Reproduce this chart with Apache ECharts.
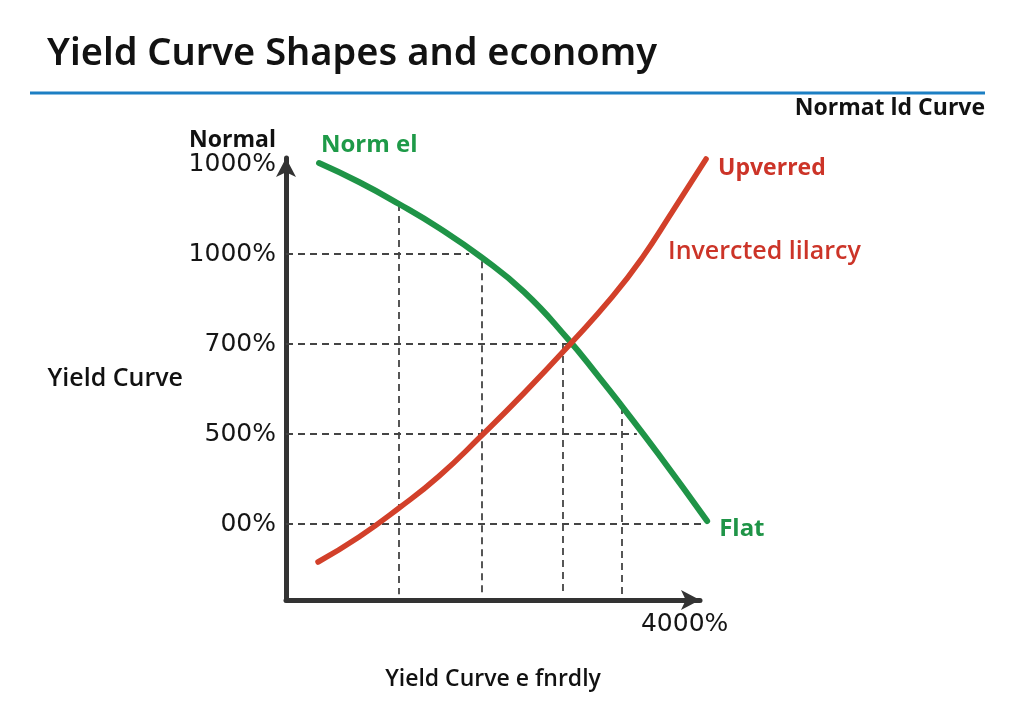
<!DOCTYPE html>
<html>
<head>
<meta charset="utf-8">
<script src="https://cdn.jsdelivr.net/npm/echarts@6/dist/echarts.min.js"></script>
<style>
html,body{margin:0;padding:0;background:#ffffff;}
#chart{width:1024px;height:721px;}
</style>
</head>
<body>
<div id="chart"></div>
<script>
// Curves (x, y in chart units)
const normalX = [0.988, 1.481, 1.975, 2.469, 2.988, 3.519, 4.049, 4.444, 4.716, 5.185, 5.778];
const normalY = [5.011, 4.800, 4.556, 4.289, 3.967, 3.578, 3.067, 2.633, 2.322, 1.767, 1.033];
const invertedX = [0.975, 1.481, 1.975, 2.469, 2.988, 3.519, 4.099, 4.605, 4.975, 5.346, 5.765];
const invertedY = [0.578, 0.856, 1.178, 1.533, 1.978, 2.456, 3.011, 3.522, 3.956, 4.467, 5.056];

// Dashed drop lines to the normal curve
const dropX = [1.975, 2.99, 3.99, 4.72];
const dropXTop = [4.556, 3.92, 3.00, 2.30];
const dropY = [1, 2, 3, 4];
const dropYEnd = [5.74, 4.91, 4.07, 2.84];

// Tick labels
const yTickValues = [1, 2, 3, 4, 5];
const yTickLabels = ['00%', '500%', '700%', '1000%', '1000%'];
const xTickValues = [5.5];
const xTickLabels = ['4000%'];

const X_MIN = 0.58, X_MAX = 5.69, Y_MIN = 0.156, Y_MAX = 5.067;
const X_MAX_DATA = 5.94; // wider data grid so curve ends are not clipped

const dropLines = [];
dropX.forEach((x, i) => dropLines.push({coords: [[x, dropXTop[i]], [x, 0.22]]}));
dropY.forEach((y, i) => dropLines.push({coords: [[X_MIN, y], [dropYEnd[i], y]]}));

const GREEN = '#1f9447';
const RED = '#d2402a';

const chart = echarts.init(document.getElementById('chart'), null, {renderer: 'canvas'});
chart.setOption({
  backgroundColor: '#ffffff',
  animation: false,
  grid: [
    {left: 286, width: 414, top: 158, bottom: 121, containLabel: false},
    {left: 286, width: 414 * (X_MAX_DATA - X_MIN) / (X_MAX - X_MIN), top: 158, bottom: 121, containLabel: false}
  ],
  xAxis: [{
    type: 'value', gridIndex: 0, min: X_MIN, max: X_MAX,
    splitLine: {show: false},
    axisTick: {show: false},
    axisLine: {show: true, onZero: false, lineStyle: {color: '#333333', width: 5}, symbol: ['none', 'arrow'], symbolSize: [15, 19]},
    axisLabel: {
      show: true, customValues: xTickValues, margin: 12,
      formatter: v => xTickLabels[xTickValues.indexOf(v)] || '',
      color: '#151515', fontSize: 25, fontFamily: 'DejaVu Sans'
    },
    name: 'Yield Curve e fnrdly', nameLocation: 'middle', nameGap: 68,
    nameTextStyle: {color: '#111111', fontSize: 23, fontWeight: 600, fontFamily: 'Open Sans'}
  }, {
    type: 'value', gridIndex: 1, min: X_MIN, max: X_MAX_DATA, show: false
  }],
  yAxis: [{
    type: 'value', gridIndex: 0, min: Y_MIN, max: Y_MAX,
    splitLine: {show: false},
    axisTick: {show: false},
    axisLine: {show: true, onZero: false, lineStyle: {color: '#333333', width: 5}, symbol: ['none', 'arrow'], symbolSize: [15, 19]},
    axisLabel: {
      show: true, customValues: yTickValues, margin: 10, padding: [5, 0, 0, 0],
      formatter: v => yTickLabels[yTickValues.indexOf(v)] || '',
      color: '#151515', fontSize: 25, fontFamily: 'DejaVu Sans'
    },
    name: 'Yield Curve', nameLocation: 'middle', nameGap: 103, nameRotate: 0,
    nameTextStyle: {color: '#111111', fontSize: 25, fontWeight: 600, fontFamily: 'Open Sans'}
  }, {
    type: 'value', gridIndex: 1, min: Y_MIN, max: Y_MAX, show: false
  }],
  series: [
    {
      type: 'lines', coordinateSystem: 'cartesian2d', xAxisIndex: 0, yAxisIndex: 0, silent: true, z: 1,
      lineStyle: {color: '#444444', width: 1.8, type: [7, 5], opacity: 1},
      data: dropLines
    },
    {
      name: 'Normal', type: 'line', xAxisIndex: 1, yAxisIndex: 1, smooth: true, showSymbol: false, z: 3,
      lineStyle: {color: GREEN, width: 6, cap: 'round'},
      data: normalX.map((x, i) => [x, normalY[i]]),
      endLabel: {show: true, formatter: 'Flat', color: GREEN, fontSize: 24, fontWeight: 'bold', fontFamily: 'Open Sans', distance: 12, offset: [0, 8]}
    },
    {
      name: 'Inverted', type: 'line', xAxisIndex: 1, yAxisIndex: 1, smooth: true, showSymbol: false, z: 4,
      lineStyle: {color: RED, width: 5.5, cap: 'round'},
      data: invertedX.map((x, i) => [x, invertedY[i]]),
      endLabel: {show: true, formatter: 'Upverred', color: '#cc3428', fontSize: 23, fontWeight: 'bold', fontFamily: 'Open Sans', distance: 12, offset: [0, 9]}
    }
  ],
  graphic: [
    {type: 'text', left: 47, top: 35, style: {text: 'Yield Curve Shapes and economy', font: '600 38px "Noto Sans"', fill: '#121212'}},
    {type: 'rect', shape: {x: 30, y: 91.5, width: 955, height: 3}, style: {fill: '#1c7fc3'}},
    {type: 'text', style: {text: 'Normat ld Curve', x: 985, y: 108, textAlign: 'right', textVerticalAlign: 'middle', font: 'bold 23px "Open Sans"', fill: '#111111'}},
    {type: 'text', style: {text: 'Normal', x: 276, y: 140, textAlign: 'right', textVerticalAlign: 'middle', font: 'bold 23px "Open Sans"', fill: '#111111'}},
    {type: 'text', style: {text: 'Norm el', x: 321, y: 145, textAlign: 'left', textVerticalAlign: 'middle', font: 'bold 24px "Open Sans"', fill: '#1e9a48'}},
    {type: 'text', style: {text: 'Invercted lilarcy', x: 668, y: 252, textAlign: 'left', textVerticalAlign: 'middle', font: '600 25px "Open Sans"', fill: '#cc3428'}}
  ]
});
</script>
</body>
</html>
